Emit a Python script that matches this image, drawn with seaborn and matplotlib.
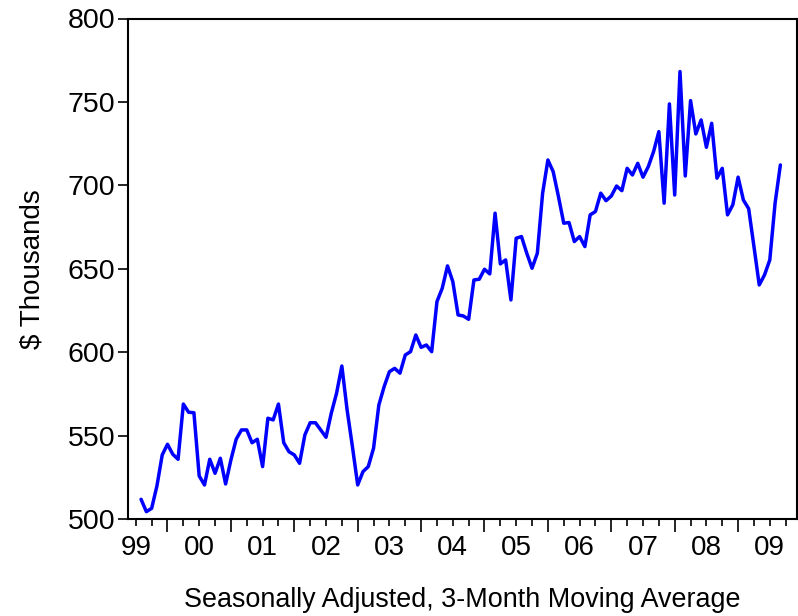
import numpy as np
import pandas as pd
import matplotlib
matplotlib.use('Agg')
import matplotlib.pyplot as plt
import seaborn as sns
from matplotlib.ticker import FixedLocator, FuncFormatter

# monthly 3-month moving average, Aug 1999 .. Sep 2009 ($ thousands)
start_month = '1999-08-01'
values = [
    511.8, 504.4, 506.4, 519.8, 538.4, 544.8, 538.8, 535.8, 568.9, 564.0,
    563.7, 525.8, 520.4, 535.8, 527.4, 536.4, 521.0, 535.4, 547.8, 553.4,
    553.4, 545.7, 547.8, 531.4, 560.4, 559.4, 568.9, 545.7, 540.3, 538.4,
    533.4, 550.4, 557.7, 557.7, 553.4, 549.0, 563.4, 575.4, 591.7, 565.3,
    543.4, 520.4, 528.4, 531.4, 542.4, 568.3, 579.3, 588.3, 590.3, 587.4,
    598.3, 600.3, 610.3, 602.9, 604.3, 600.3, 630.3, 638.3, 651.7, 642.3,
    622.3, 621.7, 619.7, 643.3, 643.7, 649.7, 646.9, 683.3, 652.9, 655.3,
    631.3, 668.3, 669.3, 659.3, 650.3, 659.3, 695.3, 715.2, 708.2, 693.2,
    677.3, 677.7, 666.3, 669.3, 663.3, 682.3, 684.3, 695.3, 690.8, 693.6,
    699.6, 696.8, 710.2, 706.2, 713.2, 704.9, 711.2, 720.2, 732.2, 689.3,
    748.8, 694.2, 768.2, 705.6, 750.8, 730.8, 739.2, 722.8, 737.2, 704.3,
    710.2, 682.3, 688.3, 704.9, 691.2, 686.0, 663.3, 640.3, 646.3, 655.3,
    689.3, 712.2,
]
years = list(range(1999, 2010))
year_labels = ['99', '00', '01', '02', '03', '04', '05', '06', '07', '08', '09']
y_ticks = [500, 550, 600, 650, 700, 750, 800]

dates = pd.date_range(start_month, periods=len(values), freq='MS')
df = pd.DataFrame({'t': dates.year + (dates.month - 1) / 12.0, 'value': values})

sns.set_style('white')
plt.rcParams['font.family'] = ['Liberation Sans', 'DejaVu Sans']
plt.rcParams['text.color'] = 'black'
plt.rcParams['axes.labelcolor'] = 'black'
plt.rcParams['xtick.color'] = 'black'
plt.rcParams['ytick.color'] = 'black'

fig = plt.figure(figsize=(7.98, 6.16), dpi=100)
ax = fig.add_axes([128 / 798, 1 - 519 / 616, 669 / 798, 500.5 / 616])

sns.lineplot(data=df, x='t', y='value', color='#0000ff', lw=2.5, ax=ax)

ax.set_xlim(1999.377, 2009.929)
ax.set_ylim(500, 800)

# x axis: long ticks at year starts, short ticks at quarters, labels mid-year
ax.xaxis.set_major_locator(FixedLocator(years))
ax.xaxis.set_major_formatter(FuncFormatter(lambda v, p: ''))
quarters = [y + q for y in years for q in (0.25, 0.5, 0.75)]
ax.xaxis.set_minor_locator(FixedLocator(quarters))
lab = {y + 0.5: s for y, s in zip(years, year_labels)}
ax.xaxis.set_minor_formatter(FuncFormatter(lambda v, p: lab.get(round(v, 2), '')))
ax.tick_params(axis='x', which='major', direction='out', length=9.5, width=1.2,
               bottom=True, top=False)
ax.tick_params(axis='x', which='minor', direction='out', length=5, width=1.2,
               bottom=True, top=False, labelsize=20, pad=6.5)

ax.set_yticks(y_ticks)
ax.tick_params(axis='y', direction='out', length=7.5, width=1.2, left=True,
               right=False, labelsize=20.5, pad=1.5)

for s in ax.spines.values():
    s.set_color('black')
    s.set_linewidth(1.5)

ax.set_xlabel('Seasonally Adjusted, 3-Month Moving Average', fontsize=19.4, labelpad=19)
ax.set_ylabel('$ Thousands', fontsize=20, labelpad=16)

fig.savefig('out.png', dpi=100)
